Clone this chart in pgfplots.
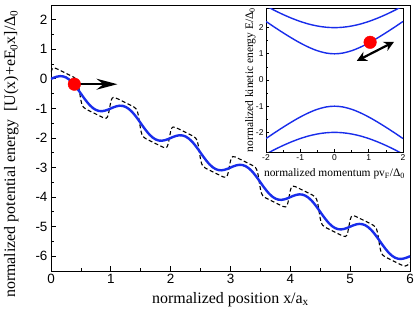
\documentclass[border=0pt]{standalone}
\usepackage{pgfplots}
\pgfplotsset{compat=1.18}
\usepackage{fontspec}
\setmainfont{Liberation Serif}
\newfontfamily\sansf{Liberation Sans}
\usetikzlibrary{arrows.meta}
\definecolor{cblue}{RGB}{25,45,235}
\begin{document}
\begin{tikzpicture}
\begin{axis}[at={(51bp,45bp)}, anchor=south west, scale only axis,
  width=359bp, height=266bp,
  xmin=0, xmax=6, ymin=-6.5, ymax=2.5,
  xtick={0,...,6}, ytick={-6,...,2},
  minor x tick num=1, minor y tick num=1,
  tick align=inside, tick pos=left,
  major tick length=5bp, minor tick length=3bp,
  axis line style={line width=0.8bp}, tick style={line width=0.8bp, black},
  /pgf/number format/assume math mode=true,
  ticklabel style={font=\sansf\fontsize{13.5}{14}\selectfont},
  clip=true]
\addplot[black, line width=1.1bp, dash pattern=on 4bp off 2.5bp, smooth, tension=0.5] coordinates {
(0,0.227)(0.02,0.339)(0.04,0.372)(0.08,0.357)(0.15,0.29)(0.22,0.22)(0.3,0.14)(0.38,0.057)(0.42,-0.008)(0.44,-0.081)(0.46,-0.233)(0.48,-0.48)(0.5,-0.727)(0.52,-0.879)(0.54,-0.952)(0.58,-1.017)(0.65,-1.09)(0.72,-1.16)(0.8,-1.24)(0.88,-1.317)(0.92,-1.332)(0.94,-1.299)(0.96,-1.187)(0.98,-0.98)
(1,-0.773)(1.02,-0.661)(1.04,-0.628)(1.08,-0.643)(1.15,-0.71)(1.22,-0.78)(1.3,-0.86)(1.38,-0.943)(1.42,-1.008)(1.44,-1.081)(1.46,-1.233)(1.48,-1.48)(1.5,-1.727)(1.52,-1.879)(1.54,-1.952)(1.58,-2.017)(1.65,-2.09)(1.72,-2.16)(1.8,-2.24)(1.88,-2.317)(1.92,-2.332)(1.94,-2.299)(1.96,-2.187)(1.98,-1.98)
(2,-1.773)(2.02,-1.661)(2.04,-1.628)(2.08,-1.643)(2.15,-1.71)(2.22,-1.78)(2.3,-1.86)(2.38,-1.943)(2.42,-2.008)(2.44,-2.081)(2.46,-2.233)(2.48,-2.48)(2.5,-2.727)(2.52,-2.879)(2.54,-2.952)(2.58,-3.017)(2.65,-3.09)(2.72,-3.16)(2.8,-3.24)(2.88,-3.317)(2.92,-3.332)(2.94,-3.299)(2.96,-3.187)(2.98,-2.98)
(3,-2.773)(3.02,-2.661)(3.04,-2.628)(3.08,-2.643)(3.15,-2.71)(3.22,-2.78)(3.3,-2.86)(3.38,-2.943)(3.42,-3.008)(3.44,-3.081)(3.46,-3.233)(3.48,-3.48)(3.5,-3.727)(3.52,-3.879)(3.54,-3.952)(3.58,-4.017)(3.65,-4.09)(3.72,-4.16)(3.8,-4.24)(3.88,-4.317)(3.92,-4.332)(3.94,-4.299)(3.96,-4.187)(3.98,-3.98)
(4,-3.773)(4.02,-3.661)(4.04,-3.628)(4.08,-3.643)(4.15,-3.71)(4.22,-3.78)(4.3,-3.86)(4.38,-3.943)(4.42,-4.008)(4.44,-4.081)(4.46,-4.233)(4.48,-4.48)(4.5,-4.727)(4.52,-4.879)(4.54,-4.952)(4.58,-5.017)(4.65,-5.09)(4.72,-5.16)(4.8,-5.24)(4.88,-5.317)(4.92,-5.332)(4.94,-5.299)(4.96,-5.187)(4.98,-4.98)
(5,-4.773)(5.02,-4.661)(5.04,-4.628)(5.08,-4.643)(5.15,-4.71)(5.22,-4.78)(5.3,-4.86)(5.38,-4.943)(5.42,-5.008)(5.44,-5.081)(5.46,-5.233)(5.48,-5.48)(5.5,-5.727)(5.52,-5.879)(5.54,-5.952)(5.58,-6.017)(5.65,-6.09)(5.72,-6.16)(5.8,-6.24)(5.88,-6.317)(5.92,-6.332)(5.96,-6.30)(6,-6.22)
};
\addplot[cblue, line width=2.4bp, smooth] coordinates {
(0,0)(0.05,0.043)(0.1,0.076)(0.15,0.093)(0.2,0.085)(0.25,0.05)(0.3,-0.015)(0.35,-0.107)(0.4,-0.224)(0.45,-0.357)(0.5,-0.5)(0.55,-0.643)(0.6,-0.776)(0.65,-0.893)(0.7,-0.985)(0.75,-1.05)(0.8,-1.085)(0.85,-1.093)(0.9,-1.076)(0.95,-1.043)
(1,-1)(1.05,-0.957)(1.1,-0.924)(1.15,-0.907)(1.2,-0.915)(1.25,-0.95)(1.3,-1.015)(1.35,-1.107)(1.4,-1.224)(1.45,-1.357)(1.5,-1.5)(1.55,-1.643)(1.6,-1.776)(1.65,-1.893)(1.7,-1.985)(1.75,-2.05)(1.8,-2.085)(1.85,-2.093)(1.9,-2.076)(1.95,-2.043)
(2,-2)(2.05,-1.957)(2.1,-1.924)(2.15,-1.907)(2.2,-1.915)(2.25,-1.95)(2.3,-2.015)(2.35,-2.107)(2.4,-2.224)(2.45,-2.357)(2.5,-2.5)(2.55,-2.643)(2.6,-2.776)(2.65,-2.893)(2.7,-2.985)(2.75,-3.05)(2.8,-3.085)(2.85,-3.093)(2.9,-3.076)(2.95,-3.043)
(3,-3)(3.05,-2.957)(3.1,-2.924)(3.15,-2.907)(3.2,-2.915)(3.25,-2.95)(3.3,-3.015)(3.35,-3.107)(3.4,-3.224)(3.45,-3.357)(3.5,-3.5)(3.55,-3.643)(3.6,-3.776)(3.65,-3.893)(3.7,-3.985)(3.75,-4.05)(3.8,-4.085)(3.85,-4.093)(3.9,-4.076)(3.95,-4.043)
(4,-4)(4.05,-3.957)(4.1,-3.924)(4.15,-3.907)(4.2,-3.915)(4.25,-3.95)(4.3,-4.015)(4.35,-4.107)(4.4,-4.224)(4.45,-4.357)(4.5,-4.5)(4.55,-4.643)(4.6,-4.776)(4.65,-4.893)(4.7,-4.985)(4.75,-5.05)(4.8,-5.085)(4.85,-5.093)(4.9,-5.076)(4.95,-5.043)
(5,-5)(5.05,-4.957)(5.1,-4.924)(5.15,-4.907)(5.2,-4.915)(5.25,-4.95)(5.3,-5.015)(5.35,-5.107)(5.4,-5.224)(5.45,-5.357)(5.5,-5.5)(5.55,-5.643)(5.6,-5.776)(5.65,-5.893)(5.7,-5.985)(5.75,-6.05)(5.8,-6.085)(5.85,-6.093)(5.9,-6.076)(5.95,-6.043)(6,-6)
};
\draw[black, line width=1.5bp, -{Stealth[length=21bp,width=11bp,inset=7bp]}] (0.39,-0.18) -- (1.11,-0.18);
\addplot[only marks, mark=*, mark size=6.3bp, red, mark options={fill=red, draw=red}] coordinates {(0.39,-0.18)};
\end{axis}

\begin{axis}[at={(266bp,164bp)}, anchor=south west, scale only axis,
  width=137bp, height=144bp,
  xmin=-2, xmax=2, ymin=-2.75, ymax=2.75,
  xtick={-2,...,2}, ytick={-2,...,2},
  minor x tick num=1, minor y tick num=1,
  tick align=inside, tick pos=left,
  major tick length=3bp, minor tick length=2bp,
  axis line style={line width=0.7bp}, tick style={line width=0.7bp, black},
  axis background/.style={fill=white},
  /pgf/number format/assume math mode=true,
  ticklabel style={font=\sansf\fontsize{8.5}{9}\selectfont},
  xticklabel style={yshift=1bp}, yticklabel style={xshift=1bp},
  clip=true]
\addplot[cblue, line width=1.4bp, smooth] coordinates {(-2,2.236)(-1.75,2.016)(-1.5,1.803)(-1.25,1.601)(-1,1.414)(-0.75,1.25)(-0.5,1.118)(-0.25,1.031)(0,1)(0.25,1.031)(0.5,1.118)(0.75,1.25)(1,1.414)(1.25,1.601)(1.5,1.803)(1.75,2.016)(2,2.236)};
\addplot[cblue, line width=1.4bp, smooth] coordinates {(-2,2.828)(-1.75,2.658)(-1.5,2.5)(-1.25,2.359)(-1,2.236)(-0.75,2.136)(-0.5,2.062)(-0.25,2.016)(0,2)(0.25,2.016)(0.5,2.062)(0.75,2.136)(1,2.236)(1.25,2.359)(1.5,2.5)(1.75,2.658)(2,2.828)};
\addplot[cblue, line width=1.4bp, smooth] coordinates {(-2,-2.236)(-1.75,-2.016)(-1.5,-1.803)(-1.25,-1.601)(-1,-1.414)(-0.75,-1.25)(-0.5,-1.118)(-0.25,-1.031)(0,-1)(0.25,-1.031)(0.5,-1.118)(0.75,-1.25)(1,-1.414)(1.25,-1.601)(1.5,-1.803)(1.75,-2.016)(2,-2.236)};
\addplot[cblue, line width=1.4bp, smooth] coordinates {(-2,-2.828)(-1.75,-2.658)(-1.5,-2.5)(-1.25,-2.359)(-1,-2.236)(-0.75,-2.136)(-0.5,-2.062)(-0.25,-2.016)(0,-2)(0.25,-2.016)(0.5,-2.062)(0.75,-2.136)(1,-2.236)(1.25,-2.359)(1.5,-2.5)(1.75,-2.658)(2,-2.828)};
\draw[black, line width=2.2bp, {Stealth[length=10bp,width=10bp]}-{Stealth[length=10bp,width=10bp]}] (0.65,0.73) -- (1.74,1.46);
\addplot[only marks, mark=*, mark size=6.3bp, red, mark options={fill=red, draw=red}] coordinates {(1.04,1.44)};
\end{axis}

\node[anchor=base, font=\fontsize{16}{18}\selectfont, inner sep=0pt] at (230.5bp,13bp) {normalized position x/a\textsubscript{x}};
\node[anchor=base, rotate=90, font=\fontsize{16}{18}\selectfont, inner sep=0pt] at (15bp,162bp) {normalized potential energy\ \ [U(x)+eE\textsubscript{0}x]/Δ\textsubscript{0}};
\node[anchor=base, font=\fontsize{11.5}{13}\selectfont, inner sep=0pt] at (334.5bp,139bp) {normalized momentum pv\textsubscript{F}/Δ\textsubscript{0}};
\node[anchor=base, rotate=90, font=\fontsize{11.5}{13}\selectfont, inner sep=0pt] at (253bp,236bp) {normalized kinetic energy E/Δ\textsubscript{0}};
\pgfresetboundingbox
\path (0,0) rectangle (415bp,316bp);
\end{tikzpicture}
\end{document}
